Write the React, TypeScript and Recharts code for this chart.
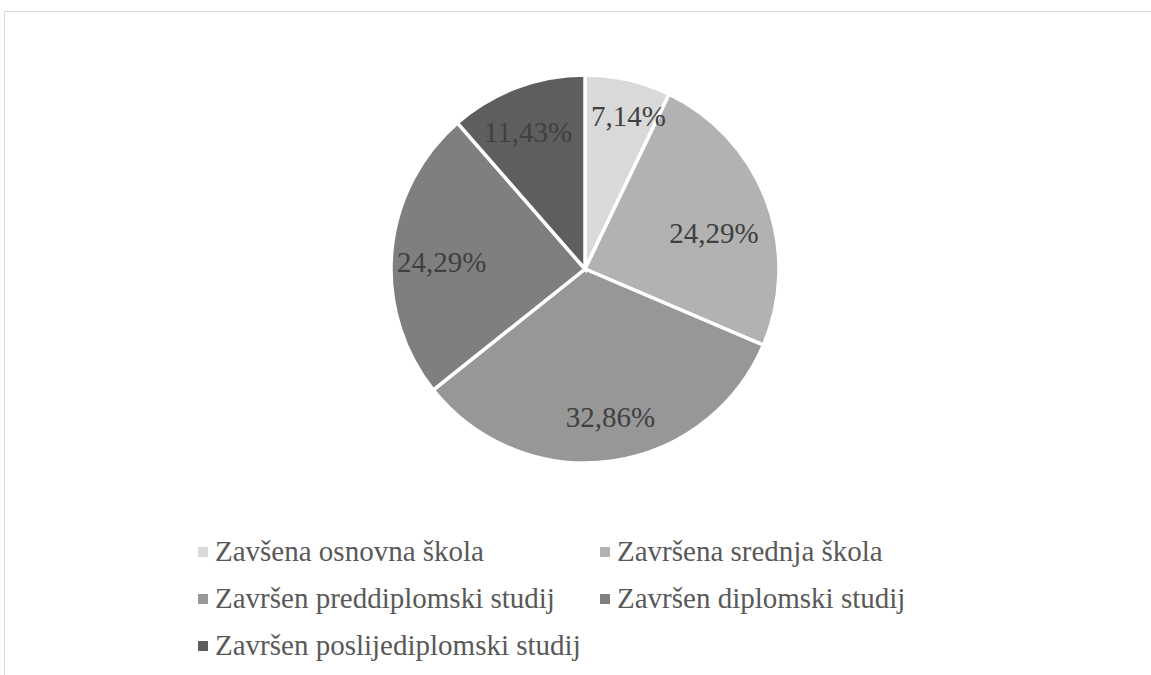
import React from "react";
import { PieChart, Pie, Cell, Legend } from "recharts";

const categories = [
  "Zavšena osnovna škola",
  "Završena srednja škola",
  "Završen preddiplomski studij",
  "Završen diplomski studij",
  "Završen poslijediplomski studij",
];
const values = [7.14, 24.29, 32.86, 24.29, 11.43];
const labels = ["7,14%", "24,29%", "32,86%", "24,29%", "11,43%"];
const colors = ["#d9d9d9", "#b2b2b2", "#979797", "#7f7f7f", "#5e5e5e"];

const data = categories.map((name, i) => ({ name, value: values[i], label: labels[i] }));

const RAD = Math.PI / 180;
const SERIF = "'Liberation Serif', 'Times New Roman', serif";

// "best fit" style placement tweaks (radius fraction, angle shift) per slice
const LABEL_FIT: Array<[number, number]> = [
  [0.82, -3],
  [0.69, -5],
  [0.775, 2],
  [0.74, 2.4],
  [0.765, 2],
];

const renderLabel = (props: any) => {
  const { cx, cy, midAngle, outerRadius, index } = props;
  const [f, da] = LABEL_FIT[index] || [0.76, 0];
  const r = outerRadius * f;
  const a = midAngle + da;
  const x = cx + r * Math.cos(-a * RAD);
  const y = cy + r * Math.sin(-a * RAD);
  return (
    <text
      x={x}
      y={y}
      fill="#404040"
      fontFamily={SERIF}
      fontSize={29}
      textAnchor="middle"
      dominantBaseline="central"
    >
      {labels[index]}
    </text>
  );
};

const renderLegend = () => (
  <div
    style={{
      display: "grid",
      gridTemplateColumns: "402px 400px",
      fontFamily: SERIF,
      fontSize: 29,
      color: "#595959",
    }}
  >
    {categories.map((c, i) => (
      <div key={c} style={{ display: "flex", alignItems: "center", height: 47, whiteSpace: "nowrap" }}>
        <span
          style={{
            display: "inline-block",
            width: 10,
            height: 10,
            background: colors[i],
            marginRight: 7,
          }}
        />
        <span>{c}</span>
      </div>
    ))}
  </div>
);

export default function App() {
  return (
    <div
      style={{
        position: "absolute",
        left: 0,
        top: 0,
        width: 1151,
        height: 675,
        overflow: "hidden",
        background: "#ffffff",
      }}
    >
      <div
        style={{
          position: "absolute",
          left: 4,
          top: 11,
          width: 1200,
          height: 720,
          border: "1px solid #d9d9d9",
        }}
      />
      <div style={{ position: "absolute", left: 0, top: 0 }}>
        <PieChart width={1151} height={675} margin={{ top: 0, right: 0, bottom: 0, left: 0 }}>
          <Pie
            data={data}
            dataKey="value"
            nameKey="name"
            cx={585}
            cy={269}
            outerRadius={194}
            startAngle={90}
            endAngle={-270}
            stroke="#ffffff"
            strokeWidth={3.5}
            label={renderLabel}
            labelLine={false}
            isAnimationActive={false}
          >
            {data.map((d, i) => (
              <Cell key={d.name} fill={colors[i]} />
            ))}
          </Pie>
          <Legend
            content={renderLegend}
            wrapperStyle={{ position: "absolute", left: 198, top: 528, width: 900 }}
          />
        </PieChart>
      </div>
    </div>
  );
}
